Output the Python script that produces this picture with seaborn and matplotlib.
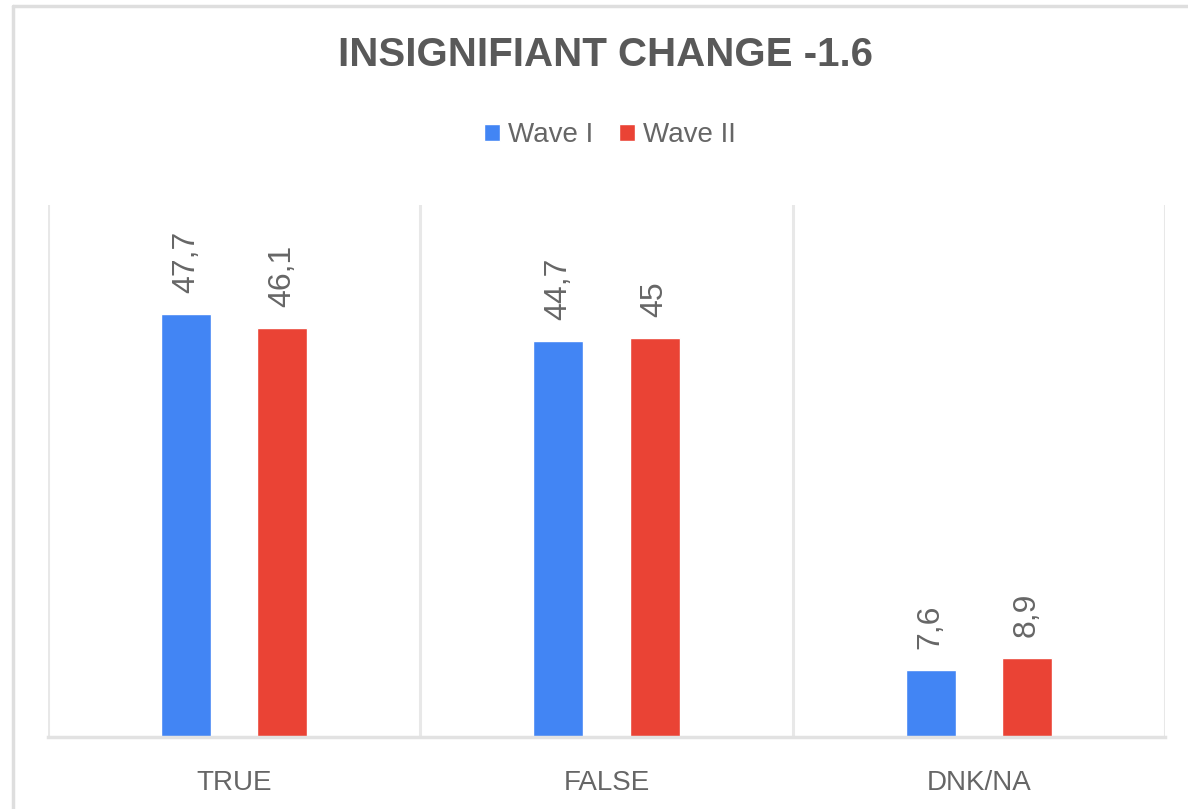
import matplotlib
matplotlib.use("Agg")
import matplotlib.pyplot as plt
from matplotlib.lines import Line2D
import seaborn as sns
import pandas as pd

categories = ["TRUE", "FALSE", "DNK/NA"]
series_names = ["Wave I", "Wave II"]
wave1 = [47.7, 44.7, 7.6]
wave2 = [46.1, 45.0, 8.9]
title_text = "INSIGNIFIANT CHANGE -1.6"

colors = ["#4285F4", "#EA4335"]

df = pd.DataFrame({
    "category": categories * 2,
    "wave": [series_names[0]] * 3 + [series_names[1]] * 3,
    "value": wave1 + wave2,
})

sns.set_theme(style="white")
plt.rcParams["font.family"] = ["Liberation Sans", "DejaVu Sans"]

W, H = 1188, 809
fig = plt.figure(figsize=(W / 100, H / 100), dpi=100)
ax = fig.add_axes([48 / W, (H - 737) / H, (1165 - 48) / W, (737 - 205) / H])

sns.barplot(data=df, x="category", y="value", hue="wave", order=categories,
            hue_order=series_names, palette=colors, width=0.516, gap=0.48,
            saturation=1, ax=ax, legend=True)

ax.set_xlim(-0.5, 2.5)
ax.set_ylim(0, 60)
ax.set_xlabel("")
ax.set_ylabel("")
ax.set_yticks([])
ax.tick_params(axis="x", length=0, pad=24, labelsize=20, labelcolor="#666666")

for s in ["top", "left", "right"]:
    ax.spines[s].set_visible(False)
ax.spines["bottom"].set_color("#e2e2e2")
ax.spines["bottom"].set_linewidth(2.5)

for xb in [-0.5, 0.5, 1.5, 2.5]:
    ax.axvline(xb, color="#e8e8e8", lw=2.2, zorder=0)

for cont in ax.containers:
    labels = [f"{b.get_height():g}".replace(".", ",") for b in cont]
    ax.bar_label(cont, labels=labels, padding=15, rotation=90,
                 fontsize=23, color="#666666")

handles, labs = ax.get_legend_handles_labels()
ax.legend_.remove()
fig.legend(handles, labs, loc="center", bbox_to_anchor=(610 / W, (H - 135) / H),
           ncol=2, frameon=False, fontsize=20, handlelength=0.58, handleheight=0.58,
           handletextpad=0.3, columnspacing=0.9, labelcolor="#666666")

fig.text(605 / W, (H - 55) / H, title_text, ha="center", va="center",
         fontsize=29, fontweight="bold", color="#595959")

fig.add_artist(Line2D([13 / W, 13 / W], [0, (H - 6) / H], transform=fig.transFigure,
                      color="#dedede", lw=2.5))
fig.add_artist(Line2D([13 / W, 1], [(H - 6) / H, (H - 6) / H], transform=fig.transFigure,
                      color="#dedede", lw=2.5))

fig.savefig("out.png", dpi=100)
